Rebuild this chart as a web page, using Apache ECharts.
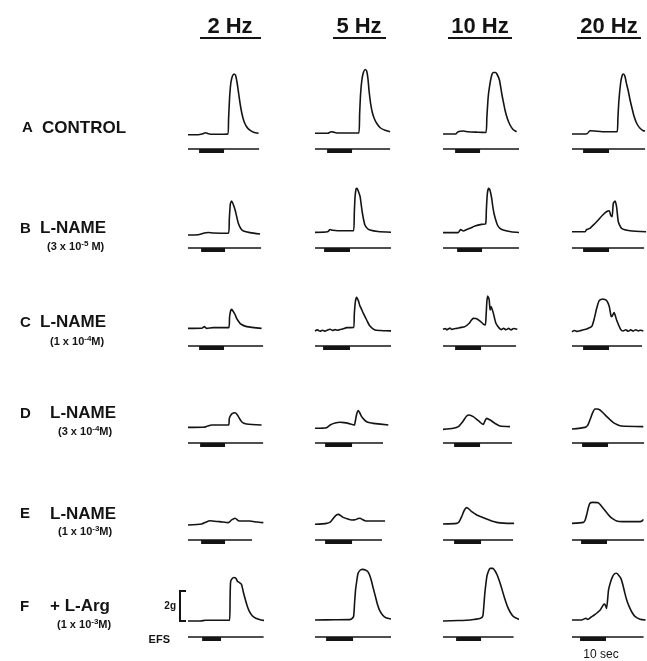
<!DOCTYPE html>
<html>
<head>
<meta charset="utf-8">
<title>EFS-induced contractions: effect of L-NAME and L-Arg</title>
<script src="https://cdn.jsdelivr.net/npm/echarts@6/dist/echarts.min.js"></script>
<style>
  html, body { margin: 0; padding: 0; background: #ffffff; }
  #chart { width: 647px; height: 661px; }
</style>
</head>
<body>
<div id="chart"></div>
<script>
// Stimulation frequencies (column headers)
const frequencies = ['2 Hz', '5 Hz', '10 Hz', '20 Hz'];

// Treatment rows: letter, drug, concentration (mantissa, exponent)
const rowLetters = ['A', 'B', 'C', 'D', 'E', 'F'];
const rowDrugs = ['CONTROL', 'L-NAME', 'L-NAME', 'L-NAME', 'L-NAME', '+ L-Arg'];
const rowConcMantissa = [null, '3', '1', '3', '1', '1'];
const rowConcExponent = [null, '-5', '-4', '-4', '-3', '-3'];

// Tension traces, [time (s), tension above resting baseline (g)], one per frequency
const controlTraces = [
  [[0,-0.05],[4,-0.05],[6,0.02],[7,0.08],[8,0.02],[10,-0.02],[15.8,0],[16.1,1.0],[16.5,2.4],[17.0,3.4],[17.6,3.85],[18.3,4.0],[18.9,3.9],[19.5,3.4],[20.1,2.7],[20.7,2.0],[21.4,1.35],[22.2,0.85],[23.2,0.5],[24.4,0.27],[26,0.12],[28,0.05]],
  [[0,0.05],[5,0.05],[6.5,0.15],[7.5,0.12],[9,0.07],[17.4,0.07],[17.7,1.3],[18.1,2.7],[18.6,3.6],[19.2,4.1],[19.9,4.3],[20.5,4.2],[21.0,3.7],[21.5,2.8],[22.1,2.0],[22.8,1.4],[23.6,1.0],[24.6,0.68],[26,0.4],[27.8,0.25],[29.8,0.15]],
  [[0,0],[5,0],[6,0.15],[8,0.2],[10,0.15],[14,0.12],[17.0,0.1],[17.4,1.1],[17.9,2.4],[18.4,3.1],[19.3,3.9],[20.0,4.1],[20.8,4.1],[21.4,4.0],[22.4,3.6],[23.3,2.7],[24.0,2.1],[24.6,1.6],[25.5,1.05],[26.6,0.6],[27.8,0.3],[29.2,0.15]],
  [[0,0],[6,0.02],[7.1,0.22],[9,0.2],[12,0.15],[15,0.15],[17.9,0.15],[18.2,1.0],[18.6,2.2],[19.3,3.4],[19.9,3.9],[20.4,4.0],[21.0,3.85],[21.7,3.3],[22.3,2.9],[23.0,2.3],[23.7,1.8],[24.6,1.2],[25.7,0.7],[27,0.38],[28.3,0.22],[29,0.2]]
];
const lname3e5Traces = [
  [[0,-0.07],[4,-0.05],[6.5,0.07],[8,0.1],[10,0.07],[16.1,0.05],[16.4,1.0],[16.8,2.0],[17.3,2.2],[17.9,2.0],[18.7,1.6],[19.4,1.1],[20.0,0.7],[21,0.35],[22,0.2],[24.6,0.09],[28.6,0]],
  [[0,0.11],[5,0.15],[6,0.3],[7,0.25],[9,0.22],[15.3,0.22],[15.6,1.4],[15.9,2.5],[16.3,3.0],[16.7,3.05],[17.2,2.85],[17.9,2.5],[18.3,2.0],[18.8,1.4],[19.3,0.95],[19.8,0.6],[20.7,0.38],[21.8,0.27],[25,0.17],[30.4,0.11]],
  [[0,0.09],[6,0.09],[7,0.3],[8.1,0.2],[9.4,0.3],[11,0.4],[12.7,0.53],[15.3,0.64],[16.9,0.67],[17.2,1.6],[17.6,2.7],[18.1,3.05],[18.6,2.95],[19.3,2.4],[19.7,1.9],[20.2,1.4],[20.9,0.95],[21.6,0.6],[22.6,0.38],[23.9,0.27],[27,0.15],[30.6,0.09]],
  [[0,0.15],[5.2,0.15],[5.8,0.3],[7.1,0.38],[9.1,0.7],[10.4,0.93],[12.2,1.27],[13.8,1.5],[14.8,1.55],[15.3,1.27],[15.9,1.15],[16.4,2.05],[17.1,2.2],[17.7,1.8],[18.4,0.8],[19.7,0.38],[23,0.22],[29.4,0.15]]
];
const lname1e4Traces = [
  [[0,0.04],[5.5,0.05],[6.5,0.16],[7.4,0.04],[10,0.09],[16.2,0.09],[16.5,0.8],[16.9,1.2],[17.3,1.31],[18,1.16],[18.7,0.95],[19.3,0.71],[20.1,0.5],[20.9,0.33],[23.3,0.16],[29.2,0.04]],
  [[0,-0.13],[1,-0.06],[2,-0.15],[3,-0.08],[4,-0.14],[5,-0.06],[6,-0.02],[7,-0.1],[8,-0.04],[9,-0.08],[10,-0.03],[11,0.0],[12.6,0.09],[15.3,0.1],[15.6,1.0],[16.0,1.8],[16.5,2.11],[17.2,1.89],[17.8,1.55],[18.3,1.38],[19.2,1.04],[20.5,0.6],[21.8,0.2],[23.8,-0.07],[26,-0.1],[28,-0.12],[30.8,-0.13]],
  [[0,-0.02],[1,0.03],[1.5,-0.05],[2.3,0.02],[2.8,0.06],[3.5,-0.03],[4.5,0.02],[5.5,0.04],[6.7,0.09],[8.7,0.16],[10.4,0.38],[11.2,0.58],[12,0.71],[13.1,0.7],[14.7,0.53],[16,0.33],[16.8,0.27],[17.1,0.9],[17.4,1.8],[17.7,2.2],[18.3,1.98],[18.7,1.27],[19.1,1.49],[20,1.04],[21,0.38],[22.4,0.04],[23.2,-0.04],[24,0.05],[25,-0.05],[26,0.04],[27,-0.06],[28,0.03],[29.5,-0.02]],
  [[0,-0.18],[1,-0.1],[2,-0.16],[3.2,-0.12],[4.5,-0.05],[5.8,0],[7.8,0.16],[8.7,0.6],[9.8,1.38],[10.8,1.89],[12.2,2.0],[13.8,1.89],[14.8,1.49],[15.4,0.93],[15.7,0.82],[16.7,1.09],[17.7,0.6],[19.3,-0.02],[20.3,-0.13],[21.3,-0.05],[22.3,-0.15],[23.3,-0.06],[24.3,-0.14],[25.3,-0.05],[26.3,-0.13],[27.3,-0.08],[28.3,-0.13]]
];
const lname3e4Traces = [
  [[0,0.04],[6.1,0.05],[7.8,0.13],[9.4,0.2],[16.1,0.2],[16.4,0.64],[17.3,0.93],[18,1.0],[18.7,1.02],[19.4,0.92],[20,0.76],[20.6,0.58],[21.3,0.42],[22.2,0.32],[23.3,0.27],[29.2,0.2]],
  [[0,-0.02],[4.6,0.02],[6,0.2],[8,0.33],[9.9,0.38],[11.5,0.36],[13.2,0.31],[15.6,0.2],[16,0.45],[16.5,0.9],[17.2,1.16],[17.8,1.0],[18.5,0.76],[19.5,0.56],[20.5,0.42],[21.8,0.35],[23.1,0.31],[29.1,0.2]],
  [[0,-0.09],[4.1,-0.02],[6.1,0.09],[7.8,0.42],[9.4,0.8],[10.4,0.87],[12,0.76],[14,0.49],[16,0.24],[16.6,0.45],[17.3,0.64],[18.7,0.53],[20.6,0.31],[22.6,0.13],[26.6,0.09]],
  [[0,-0.07],[5.2,0.04],[6.3,0.2],[7.1,0.53],[8.2,1.02],[9.1,1.27],[10,1.27],[11.1,1.2],[12.5,0.98],[13.8,0.76],[15.1,0.55],[16.4,0.36],[18,0.22],[19.7,0.13],[28.3,0.09]]
];
const lname1e3Traces = [
  [[0,-0.07],[5.4,0],[7,0.12],[8.7,0.22],[10.5,0.18],[12.6,0.16],[16,0.09],[17.3,0.27],[18.7,0.38],[20,0.22],[21.3,0.2],[24.6,0.2],[27.3,0.13],[29.9,0.09]],
  [[0,-0.02],[4.6,0.04],[6,0.12],[7.3,0.38],[8.3,0.58],[9.3,0.64],[10.2,0.56],[11.2,0.44],[13,0.33],[14.6,0.27],[15.9,0.28],[17.1,0.36],[17.9,0.38],[18.8,0.3],[19.8,0.22],[23,0.2],[27.8,0.2]],
  [[0,0],[5.4,0.04],[6.4,0.15],[7.4,0.49],[8.4,0.9],[9.4,1.09],[10.3,1.0],[11.4,0.82],[13.4,0.6],[15.3,0.47],[17.3,0.33],[19.3,0.2],[21.3,0.11],[24,0.06],[28.2,0.04]],
  [[0,0.04],[4.5,0.11],[5.2,0.25],[5.8,0.6],[6.5,1.1],[7.1,1.38],[8.2,1.44],[10.4,1.42],[11.4,1.25],[12.4,1.04],[13.8,0.75],[15.1,0.49],[16.4,0.32],[17.7,0.2],[20,0.16],[27,0.16],[27.8,0.2],[28.3,0.31]]
];
const lArgTraces = [
  [[0,0],[5,0],[7,0.05],[16.5,0.05],[16.7,1.5],[16.9,2.6],[17.4,2.8],[18.2,2.9],[19.0,2.85],[19.6,2.65],[20.4,2.56],[21.2,2.45],[22,1.9],[22.8,1.4],[23.6,0.95],[24.4,0.62],[25.5,0.35],[26.9,0.18],[29,0.07],[30.5,0.03]],
  [[0,0.07],[8,0.08],[14.2,0.11],[15.3,0.3],[15.7,1.2],[16.1,2.07],[16.6,2.7],[17.1,3.18],[18,3.4],[19,3.44],[20,3.4],[21,3.29],[21.7,3.05],[22.3,2.73],[23.1,2.2],[24,1.62],[24.8,1.1],[25.6,0.73],[26.8,0.4],[28.1,0.22],[31,0.1]],
  [[0,0],[6,0.03],[10.8,0.07],[14.9,0.18],[15.8,0.33],[16.2,1.0],[16.6,1.84],[17.4,2.96],[18.1,3.35],[18.7,3.51],[19.8,3.51],[20.6,3.35],[21.5,3.07],[22.3,2.7],[23.1,2.29],[24.3,1.6],[25.6,0.96],[26.8,0.55],[28,0.29],[30.6,0.07]],
  [[0,0.07],[3.8,0.07],[5.5,0.18],[6.3,0.1],[7.5,0.25],[8.8,0.4],[10,0.55],[11.2,0.73],[12.4,1.07],[13,1.13],[13.7,0.84],[14.5,2.07],[15.3,2.6],[16.1,2.96],[16.9,3.15],[17.7,3.18],[18.5,3.05],[19.4,2.84],[20.2,2.4],[21,1.84],[21.8,1.35],[22.7,0.96],[23.9,0.55],[25.1,0.29],[27,0.12],[29.2,0.07]]
];
const rowTraces = [controlTraces, lname3e5Traces, lname1e4Traces, lname3e4Traces, lname1e3Traces, lArgTraces];

// Length of each EFS recording track, [start, end] in s
const efsTrack = [
  [[0,28.2],[0,29.8],[0,30.6],[0,29.0]],
  [[0,29.0],[0,30.6],[0,31.0],[0,28.6]],
  [[0,29.8],[0,31.0],[0,29.0],[0,27.8]],
  [[0,29.8],[0,27.0],[0,27.4],[0,28.6]],
  [[0,25.4],[0,26.6],[0,27.8],[0,28.6]],
  [[0,30.0],[0,31.0],[0,28.0],[0,28.4]]
];
// Stimulus train (10 s EFS), [on, off] in s
const efsTrain = [
  [[4.4,14.3],[4.8,14.7],[4.8,14.7],[4.4,14.7]],
  [[5.2,14.7],[3.6,13.9],[5.6,15.5],[4.4,14.7]],
  [[4.4,14.3],[3.2,13.9],[4.8,15.1],[4.4,14.7]],
  [[4.8,14.7],[4.0,14.7],[4.4,14.7],[4.0,14.3]],
  [[5.2,14.7],[4.0,14.7],[4.4,15.1],[3.6,13.9]],
  [[5.6,13.1],[4.4,15.1],[5.2,15.1],[3.2,13.5]]
];

// Calibration bar (g)
const calibration = [0, 2];

// ---- layout ----
const colLeft = [188, 315, 443, 572];
const rowBaseline = [134, 234, 329, 428, 524, 621];
const efsDropPx = [15, 14, 17, 15, 16, 16];
const PX_PER_S = 2.52;
const PX_PER_G = 15;
const X_MAX = 29.5;
const Y_MIN = -2;
const Y_MAX = 5;
const INK = '#141414';
const FONT = '"Liberation Sans", Arial, Helvetica, sans-serif';

const chart = echarts.init(document.getElementById('chart'), null, { renderer: 'canvas' });

const grids = [], xAxes = [], yAxes = [], series = [];

function addGrid(left, top, width, height, xMin, xMax) {
  const idx = grids.length;
  grids.push({ left, top, width, height, show: false });
  xAxes.push({ type: 'value', gridIndex: idx, min: xMin, max: xMax, show: false });
  yAxes.push({ type: 'value', gridIndex: idx, min: Y_MIN, max: Y_MAX, show: false });
  return idx;
}

rowTraces.forEach((traces, r) => {
  traces.forEach((trace, c) => {
    const idx = addGrid(colLeft[c], rowBaseline[r] - Y_MAX * PX_PER_G,
      X_MAX * PX_PER_S, (Y_MAX - Y_MIN) * PX_PER_G, 0, X_MAX);

    // tension trace
    series.push({
      type: 'line', xAxisIndex: idx, yAxisIndex: idx,
      data: trace, showSymbol: false, symbol: 'none', smooth: 0.2,
      clip: false, silent: true,
      lineStyle: { color: INK, width: 1.6, join: 'round' }
    });

    // EFS marker track
    const lvl = -efsDropPx[r] / PX_PER_G;
    const tr = efsTrack[r][c];
    series.push({
      type: 'line', xAxisIndex: idx, yAxisIndex: idx,
      data: [[tr[0], lvl], [tr[1], lvl]], showSymbol: false, symbol: 'none',
      clip: false, silent: true,
      lineStyle: { color: INK, width: 1.4 }
    });
    // stimulus train block hanging under the track
    const on = efsTrain[r][c];
    const blk = lvl - 2 / PX_PER_G;
    series.push({
      type: 'line', xAxisIndex: idx, yAxisIndex: idx,
      data: [[on[0], blk], [on[1], blk]], showSymbol: false, symbol: 'none',
      clip: false, silent: true,
      lineStyle: { color: INK, width: 4, cap: 'butt' }
    });
  });
});

// 2 g calibration bracket, on the same tension scale as the last row
const lastRow = rowBaseline.length - 1;
const calIdx = addGrid(180, rowBaseline[lastRow] - Y_MAX * PX_PER_G, 6,
  (Y_MAX - Y_MIN) * PX_PER_G, 0, 1);
series.push({
  type: 'line', xAxisIndex: calIdx, yAxisIndex: calIdx,
  data: [[1, calibration[1]], [0, calibration[1]], [0, calibration[0]], [1, calibration[0]]],
  showSymbol: false, symbol: 'none', clip: false, silent: true,
  lineStyle: { color: INK, width: 2, cap: 'butt', join: 'miter' }
});

// ---- text ----
const graphic = [];
const headerCenters = [230, 359, 480, 609];
frequencies.forEach((f, i) => {
  graphic.push({
    type: 'text', x: headerCenters[i], y: 27,
    style: { text: f, font: 'bold 22px ' + FONT, fill: INK, align: 'center', verticalAlign: 'middle' }
  });
});
// header underlines
const underline = [[200, 261], [333, 386], [448, 512], [577, 641]];
underline.forEach(u => {
  graphic.push({ type: 'rect', shape: { x: u[0], y: 37, width: u[1] - u[0], height: 2 }, style: { fill: INK } });
});

const letterPos = [[22, 128], [20, 229], [20, 323], [20, 414], [20, 514], [20, 607]];
const drugPos = [[42, 128], [40, 228], [40, 322], [50, 413], [50, 514], [50, 606]];
const concPos = [null, [47, 247], [50, 342], [58, 432], [58, 532], [57, 625]];

rowLetters.forEach((L, r) => {
  graphic.push({
    type: 'text', x: letterPos[r][0], y: letterPos[r][1],
    style: { text: L, font: 'bold 15px ' + FONT, fill: INK, align: 'left', verticalAlign: 'middle' }
  });
  graphic.push({
    type: 'text', x: drugPos[r][0], y: drugPos[r][1],
    style: { text: rowDrugs[r], font: 'bold 17px ' + FONT, fill: INK, align: 'left', verticalAlign: 'middle' }
  });
  if (rowConcMantissa[r] !== null) {
    const tail = r === 1 ? ' M)' : 'M)';
    graphic.push({
      type: 'text', x: concPos[r][0], y: concPos[r][1],
      style: {
        text: '(' + rowConcMantissa[r] + ' x 10{sup|' + rowConcExponent[r] + '}' + tail,
        font: 'bold 11px ' + FONT, fill: INK, align: 'left', verticalAlign: 'middle',
        rich: { sup: { font: 'bold 8px ' + FONT, fill: INK, padding: [0, 0, 7, 0] } }
      }
    });
  }
});

graphic.push({
  type: 'text', x: 176, y: 606,
  style: { text: '2g', font: 'bold 10px ' + FONT, fill: INK, align: 'right', verticalAlign: 'middle' }
});
graphic.push({
  type: 'text', x: 170, y: 640,
  style: { text: 'EFS', font: 'bold 11px ' + FONT, fill: INK, align: 'right', verticalAlign: 'middle' }
});
graphic.push({
  type: 'text', x: 601, y: 655,
  style: { text: '10 sec', font: '12px ' + FONT, fill: INK, align: 'center', verticalAlign: 'middle' }
});

chart.setOption({
  backgroundColor: '#ffffff',
  animation: false,
  grid: grids,
  xAxis: xAxes,
  yAxis: yAxes,
  series: series,
  graphic: { elements: graphic }
});
</script>
</body>
</html>
